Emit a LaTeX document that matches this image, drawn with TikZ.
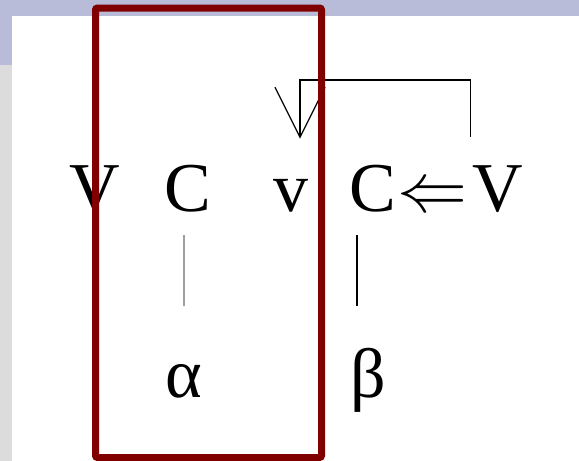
\documentclass[tikz,border=0pt]{standalone}
\usepackage{fontspec}
\setmainfont{Liberation Serif}
\usepackage{tikz}
\usetikzlibrary{arrows.meta,calc}
\definecolor{framered}{HTML}{800000}
\definecolor{bandblue}{HTML}{B8BCD8}
\definecolor{sidegray}{HTML}{DCDCDC}

\begin{document}
\begin{tikzpicture}[x=1pt,y=-1pt,
  lbl/.style={font=\fontsize{70}{84}\selectfont, inner sep=0pt, anchor=base},
  stem/.style={line width=1.3pt},
  back/.style={line width=1.3pt, -{Straight Barb[length=50pt,width=50pt]}}]
\useasboundingbox (0,0) rectangle (579,461);
\fill[bandblue] (0,0) rectangle (579,16);
\fill[bandblue] (0,16) rectangle (12,65);
\fill[sidegray] (0,65) rectangle (12,461);
\foreach \n/\x/\t in {va/95/V, ca/188/C, vb/291/v, cb/373/C, vc/498/V} {
  \node[lbl] (\n) at (\x,211) {\t};
}
\node[lbl] (imp) at (432,211) {\scalebox{7}{\normalsize$\Leftarrow$}};
\node[lbl] (alpha) at (184,397) {α};
\node[lbl] (beta) at (368,397) {β};
\draw[stem, gray!75, shorten <=23pt, shorten >=58pt] (alpha.north |- ca.south) -- (alpha.north);
\draw[stem, shorten <=23pt, shorten >=42pt] ([xshift=-16pt]cb.south) -- ([xshift=-11pt]beta.north);
\draw[back] ([xshift=-2pt,yshift=28pt]vc.north west) -- ++(0,-57) -| ([xshift=9pt,yshift=40pt]vb.north);
\draw[framered, line width=7pt, rounded corners=2pt] (95.5,8) rectangle (321.5,457.5);
\end{tikzpicture}
\end{document}
